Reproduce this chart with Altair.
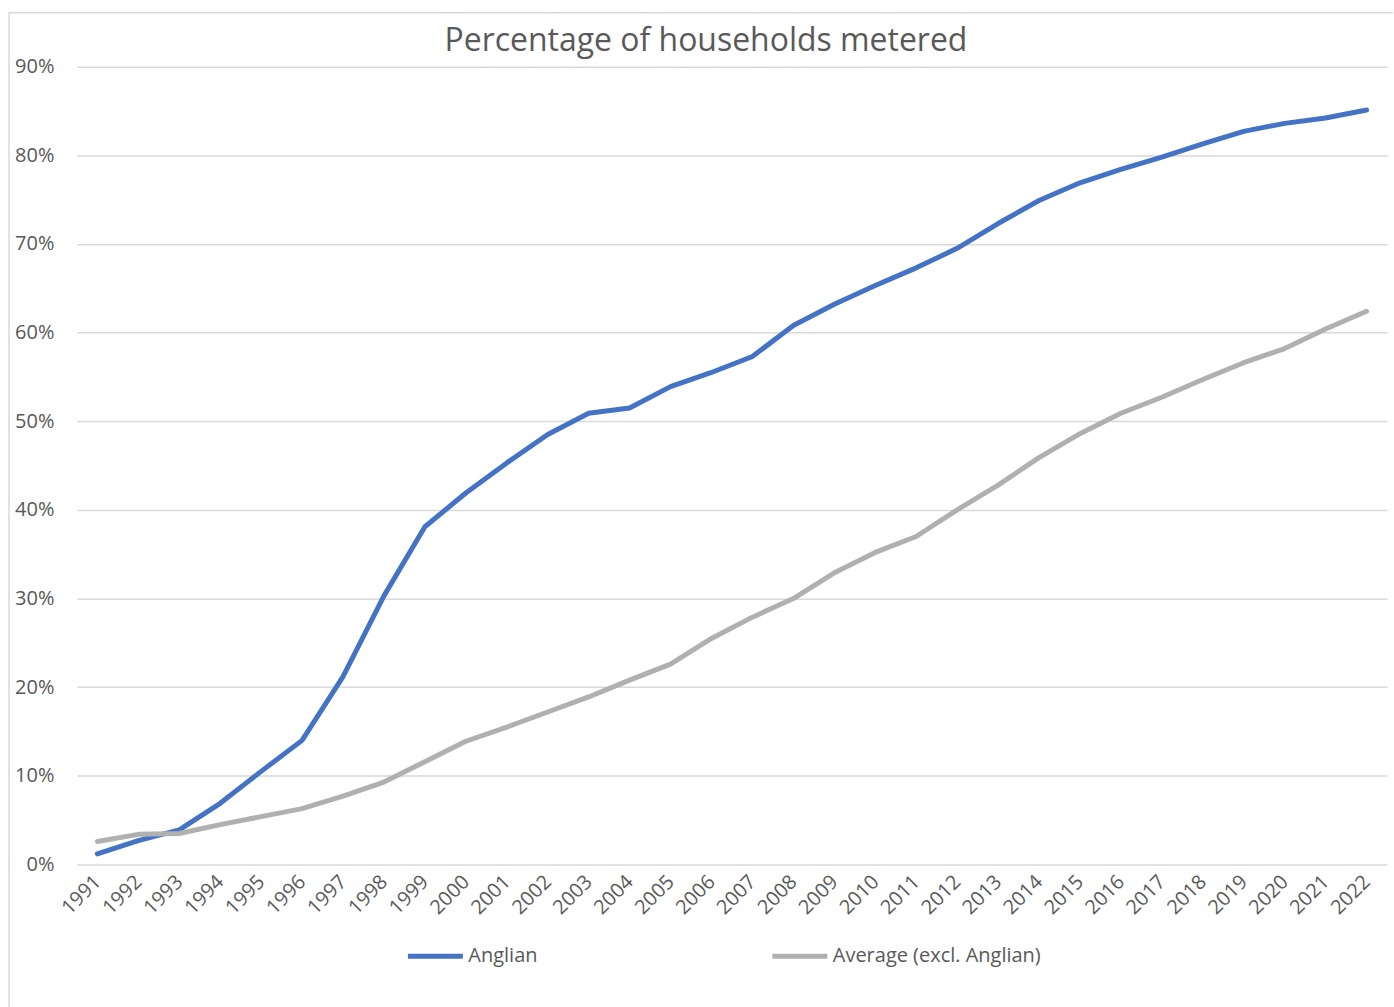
import altair as alt
import pandas as pd

years = [str(y) for y in range(1991, 2023)]
anglian = [1.2, 2.7, 3.9, 6.9, 10.5, 14.0, 21.2, 30.3, 38.1, 41.9, 45.3, 48.5, 50.9, 51.5, 53.9, 55.5,
           57.3, 60.8, 63.2, 65.3, 67.3, 69.5, 72.3, 74.9, 76.9, 78.4, 79.8, 81.3, 82.7, 83.6, 84.2, 85.1]
average = [2.6, 3.4, 3.5, 4.5, 5.4, 6.3, 7.7, 9.3, 11.6, 13.9, 15.5, 17.2, 18.9, 20.8, 22.6, 25.5,
           27.9, 30.0, 32.9, 35.2, 37.0, 40.0, 42.8, 45.9, 48.6, 50.9, 52.7, 54.7, 56.6, 58.2, 60.4, 62.4]
series_names = ["Anglian", "Average (excl. Anglian)"]
series_colors = ["#4472C4", "#B0B0B0"]

rows = []
for name, vals in zip(series_names, [anglian, average]):
    for y, v in zip(years, vals):
        rows.append({"Year": y, "Series": name, "Value": v / 100})
df = pd.DataFrame(rows)

FONT = "Open Sans"
GREY = "#595959"

lines = alt.Chart(df).mark_line(strokeWidth=5, strokeJoin="round", strokeCap="round").encode(
    x=alt.X("Year:O", sort=years, title=None,
            scale=alt.Scale(type="point", padding=0.5),
            axis=alt.Axis(labelAngle=315, labelAlign="right", labelBaseline="middle",
                          ticks=False, domain=False, grid=False, labelPadding=14,
                          labelFontSize=20, labelColor=GREY, labelFont=FONT)),
    y=alt.Y("Value:Q", title=None,
            scale=alt.Scale(domain=[0, 0.9], nice=False),
            axis=alt.Axis(format=".0%", values=[i / 10 for i in range(10)], ticks=False,
                          domain=False, labelPadding=23, labelFontSize=20, labelColor=GREY,
                          labelFont=FONT, gridColor="#D9D9D9", gridWidth=1.5)),
    color=alt.Color("Series:N", scale=alt.Scale(domain=series_names, range=series_colors),
                    legend=alt.Legend(title=None, orient="none", legendX=329, legendY=861,
                                      direction="horizontal", symbolType="stroke",
                                      symbolSize=3025, symbolStrokeWidth=5,
                                      labelFontSize=20, labelColor=GREY, labelFont=FONT,
                                      labelLimit=400, labelOffset=3, columnPadding=224)),
)

one = alt.Data(values=[{"a": 1}])
border_top = alt.Chart(one).mark_rule(stroke="#D9D9D9", strokeWidth=1.5).encode(
    x=alt.value(-68), x2=alt.value(1318), y=alt.value(-54)
)
border_left = alt.Chart(one).mark_rule(stroke="#D9D9D9", strokeWidth=1.5).encode(
    x=alt.value(-68), y=alt.value(-54), y2=alt.value(942)
)

chart = alt.layer(border_top, border_left, lines).properties(
    width=1312, height=799,
    padding={"left": 8, "top": 11, "right": 0, "bottom": 0},
    title=alt.TitleParams("Percentage of households metered", fontSize=32, font=FONT,
                          fontWeight="normal", color=GREY, anchor="middle", dx=-26, offset=-46),
).configure_view(stroke=None)

chart.save("out.html", embed_options={"renderer": "svg", "actions": False})
